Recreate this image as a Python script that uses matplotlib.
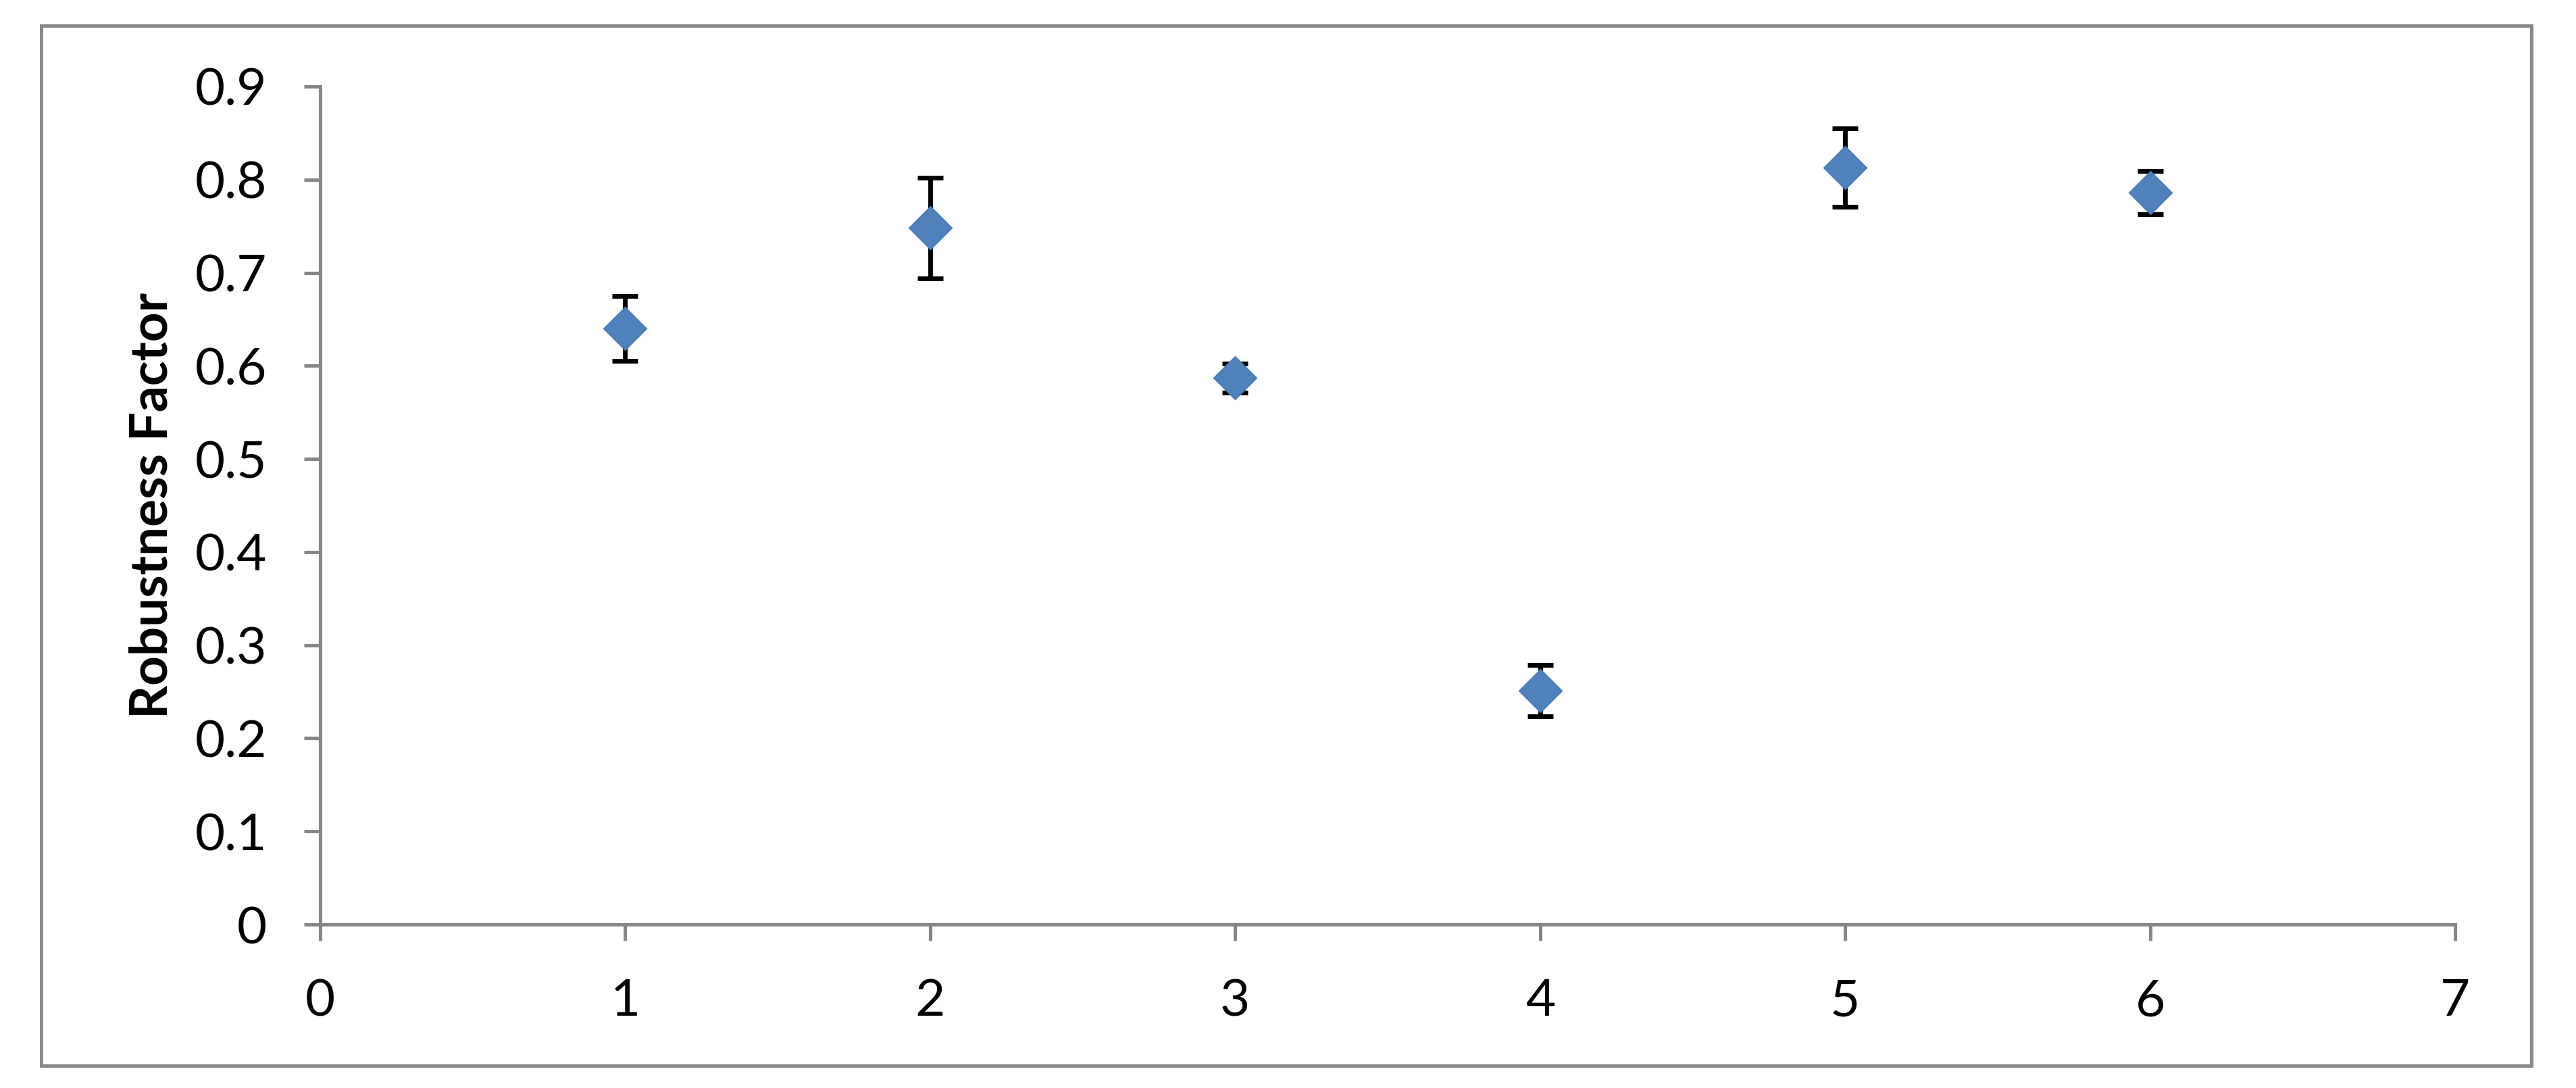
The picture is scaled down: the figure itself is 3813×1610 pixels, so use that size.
import matplotlib
matplotlib.use("Agg")
import matplotlib.pyplot as plt
from matplotlib.patches import Rectangle

# data
x = [1, 2, 3, 4, 5, 6]
robustness = [0.640, 0.748, 0.587, 0.251, 0.813, 0.786]
err = [0.035, 0.054, 0.0155, 0.0275, 0.042, 0.0235]

xticks = [0, 1, 2, 3, 4, 5, 6, 7]
yticks = [0, 0.1, 0.2, 0.3, 0.4, 0.5, 0.6, 0.7, 0.8, 0.9]
ytick_labels = ['0', '0.1', '0.2', '0.3', '0.4', '0.5', '0.6', '0.7', '0.8', '0.9']

axis_grey = '#868686'
plt.rcParams['font.family'] = ['Lato', 'DejaVu Sans']

fig = plt.figure(figsize=(38.13, 16.10), dpi=100)
ax = fig.add_axes([0.1243, 0.1503, 0.8288, 0.7702])

# error bars first, then diamonds on top
ax.errorbar(x, robustness, yerr=err, fmt='none', ecolor='black',
            elinewidth=5, capsize=13.5, capthick=5, zorder=2)
ax.plot(x, robustness, linestyle='none', marker='D', markersize=32,
        markerfacecolor='#4F81BD', markeredgecolor='#4A7EBB',
        markeredgewidth=2, zorder=3)

ax.set_xlim(0, 7)
ax.set_ylim(0, 0.9)
ax.set_xticks(xticks)
ax.set_xticklabels([str(t) for t in xticks])
ax.set_yticks(yticks)
ax.set_yticklabels(ytick_labels)

for side in ['top', 'right']:
    ax.spines[side].set_visible(False)
for side in ['left', 'bottom']:
    ax.spines[side].set_color(axis_grey)
    ax.spines[side].set_linewidth(3.6)
    ax.spines[side].set_capstyle('projecting')

ax.tick_params(axis='both', direction='out', length=17, width=3.6,
               color=axis_grey, labelsize=55, labelcolor='black', pad=40)

ax.set_ylabel('Robustness Factor', fontsize=55, fontweight='bold', labelpad=20)

# grey frame round the whole chart
frame = Rectangle((0.016, 0.0205), 0.9667, 0.9559, transform=fig.transFigure,
                  fill=False, edgecolor='#898989', linewidth=3.6)
fig.patches.append(frame)

fig.savefig('out.png', dpi=100, facecolor='white')
